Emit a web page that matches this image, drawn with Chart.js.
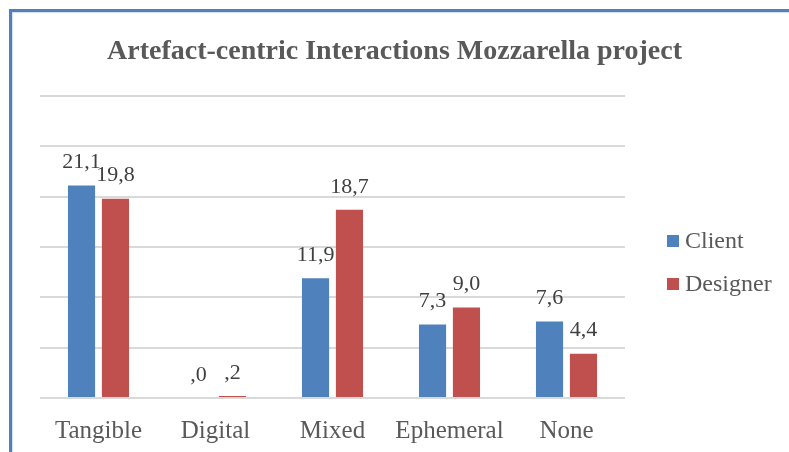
<!DOCTYPE html>
<html>
<head>
<meta charset="utf-8">
<script src="https://cdn.jsdelivr.net/npm/chart.js@4/dist/chart.umd.min.js"></script>
<style>
  html, body { margin: 0; padding: 0; background: #fff; }
  #wrap { position: relative; width: 789px; height: 452px; overflow: hidden; }
  #frame { position: absolute; left: 9px; top: 9px; width: 900px; height: 600px;
           border-left: 3px solid #4f81bd; border-top: 3px solid #4f81bd;
           box-shadow: inset 1px 1px 1px rgba(79,129,189,0.25); pointer-events: none; }
  canvas { position: absolute; left: 0; top: 0; }
</style>
</head>
<body>
<div id="wrap">
  <canvas id="c" width="789" height="452"></canvas>
  <div id="frame"></div>
</div>
<script>
const titleText = 'Artefact-centric Interactions Mozzarella project';
const categories = ['Tangible', 'Digital', 'Mixed', 'Ephemeral', 'None'];
const seriesNames = ['Client', 'Designer'];
const clientValues = [21.1, 0.0, 11.9, 7.3, 7.6];
const designerValues = [19.8, 0.2, 18.7, 9.0, 4.4];
const seriesColors = ['#4f81bd', '#c0504d'];
const yMin = 0, yMax = 30, yStep = 5;

const SERIF = '"Liberation Serif", "Times New Roman", serif';
const TEXT_GRAY = '#595959';

function fmt(v) {
  let s = v.toFixed(1).replace('.', ',');
  if (Math.abs(v) < 1) s = s.replace(/^0/, '');
  return s;
}

const labelPlugin = {
  id: 'valueLabels',
  afterDatasetsDraw(chart) {
    const ctx = chart.ctx;
    ctx.save();
    ctx.font = '22px ' + SERIF;
    ctx.fillStyle = '#404040';
    ctx.textAlign = 'center';
    ctx.textBaseline = 'middle';
    chart.data.datasets.forEach((ds, di) => {
      const meta = chart.getDatasetMeta(di);
      meta.data.forEach((bar, i) => {
        ctx.fillText(fmt(ds.data[i]), bar.x, bar.y - 23);
      });
    });
    ctx.restore();
  }
};

const legendPlugin = {
  id: 'sideLegend',
  afterDraw(chart) {
    const ctx = chart.ctx;
    const a = chart.chartArea;
    ctx.save();
    ctx.font = '24px ' + SERIF;
    ctx.textBaseline = 'middle';
    ctx.textAlign = 'left';
    chart.data.datasets.forEach((ds, i) => {
      const cy = (a.top + a.bottom) / 2 - 6 + i * 43;
      const x = a.right + 42;
      ctx.fillStyle = ds.backgroundColor;
      ctx.fillRect(x, cy - 6, 12, 12);
      ctx.fillStyle = TEXT_GRAY;
      ctx.fillText(ds.label, x + 18, cy + 1);
    });
    ctx.restore();
  }
};

new Chart(document.getElementById('c'), {
  type: 'bar',
  data: {
    labels: categories,
    datasets: [
      { label: seriesNames[0], data: clientValues, backgroundColor: seriesColors[0] },
      { label: seriesNames[1], data: designerValues, backgroundColor: seriesColors[1] }
    ]
  },
  options: {
    responsive: false,
    devicePixelRatio: 1,
    animation: false,
    datasets: { bar: { categoryPercentage: 0.58, barPercentage: 0.8 } },
    layout: { padding: 0 },
    plugins: {
      legend: { display: false },
      tooltip: { enabled: false },
      title: {
        display: true,
        text: titleText,
        color: TEXT_GRAY,
        font: { family: SERIF, size: 28, weight: 'bold' },
        padding: { top: 35, bottom: 27.4 }
      }
    },
    scales: {
      x: {
        grid: { display: false },
        border: { display: false },
        ticks: { color: TEXT_GRAY, font: { family: SERIF, size: 25 }, padding: 10, maxRotation: 0 },
        afterFit(s) { s.height = 54; }
      },
      y: {
        min: yMin, max: yMax,
        ticks: { display: false, stepSize: yStep },
        grid: { color: '#d9d9d9', lineWidth: 2, drawTicks: false },
        border: { display: false },
        afterFit(s) { s.width = 40; }
      },
      yRight: {
        position: 'right',
        min: yMin, max: yMax,
        ticks: { display: false },
        grid: { display: false },
        border: { display: false },
        afterFit(s) { s.width = 164; }
      }
    }
  },
  plugins: [labelPlugin, legendPlugin]
});
</script>
</body>
</html>
